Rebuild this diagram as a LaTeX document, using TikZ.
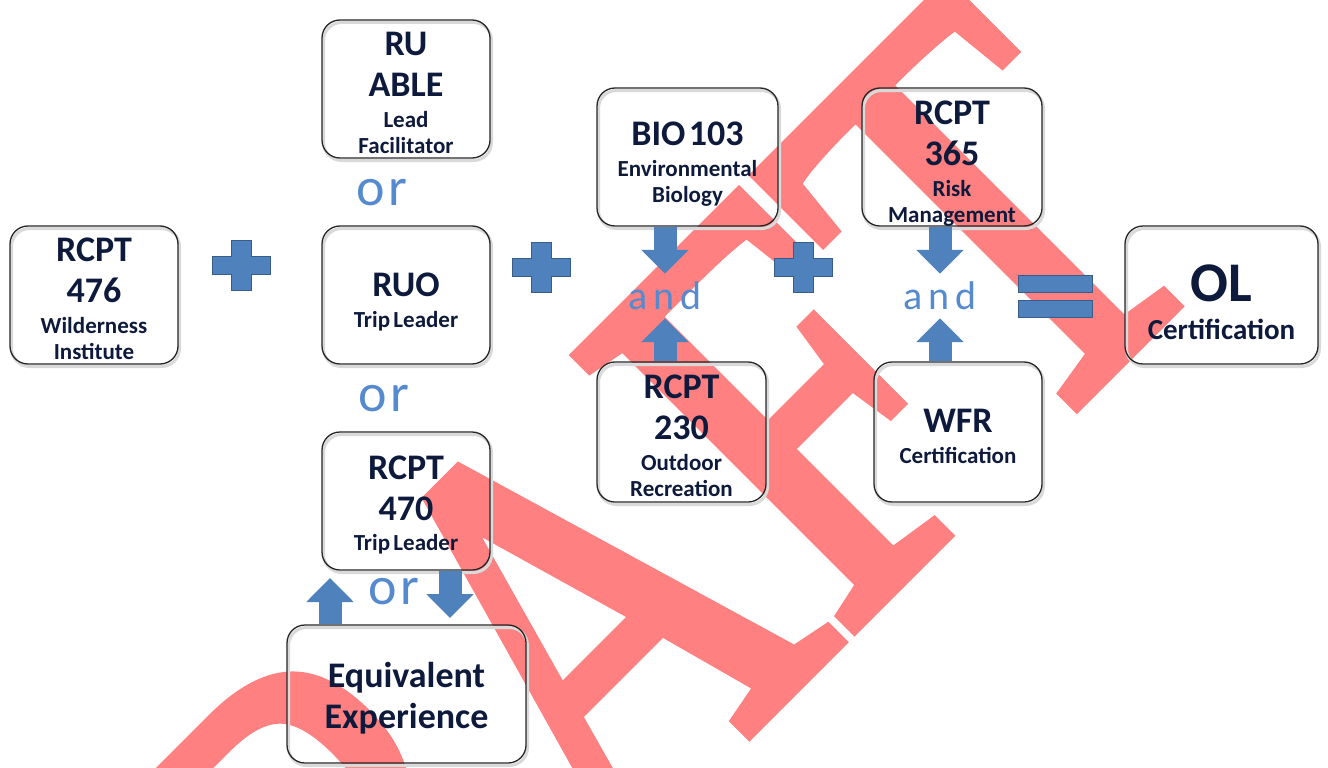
\documentclass[tikz,border=0pt]{standalone}
\usepackage{fontspec}
\setmainfont{Carlito}
\newfontfamily\wmfont[FakeBold=2.5]{Liberation Serif}
\newfontfamily\joinfont[LetterSpace=16]{Carlito}
\newfontfamily\orfont[LetterSpace=8]{Carlito}
\usetikzlibrary{arrows.meta,positioning}

\definecolor{navy}{RGB}{14,26,60}
\definecolor{plusblue}{RGB}{79,129,189}
\definecolor{plusedge}{RGB}{56,93,138}
\definecolor{joinblue}{RGB}{86,138,206}
\definecolor{wmred}{RGB}{255,128,128}

% lines inside the course boxes
\newcommand{\crsbig}[1]{{\fontsize{36}{41}\selectfont #1\par}}
\newcommand{\crssmall}[1]{{\fontsize{23}{26}\selectfont\vspace{5pt}#1\par}}
\newcommand{\crsdrop}{\kern-6pt}

\tikzset{
  course/.style={draw=black!85, line width=1.3pt, rounded corners=18pt,
    align=center, text=navy, font=\bfseries, inner sep=0pt,
    minimum height=138pt, text width=#1,
    execute at end node={\par\kern-8pt},
    preaction={draw=black!15, line width=3pt,
      transform canvas={xshift=1.5pt,yshift=-2.5pt}}},
  joinword/.style={font=\orfont\fontsize{54}{54}\selectfont, text=joinblue, inner sep=0pt},
  andword/.style={font=\joinfont\fontsize{40}{40}\selectfont, text=joinblue, inner sep=0pt, minimum height=44pt},
  blockarr/.style={draw=plusblue, line width=23pt, -{Triangle[width=46pt,length=24pt]}},
  blueshape/.style={fill=plusblue, draw=plusedge, line width=0.8pt},
  wmark/.style={font=\wmfont\fontsize{590}{600}\selectfont, text=wmred, inner sep=0pt},
  plussign/.pic={
    \filldraw[blueshape] (-29,-9) -- (-10,-9) -- (-10,-25) -- (10,-25) -- (10,-9) -- (29,-9)
      -- (29,9) -- (10,9) -- (10,25) -- (-10,25) -- (-10,9) -- (-29,9) -- cycle;}
}

\begin{document}
\begin{tikzpicture}[x=1pt,y=-1pt]
	\useasboundingbox (0,0) rectangle (1328,768);
	\clip (0,0) rectangle (1328,768);

	% watermark
	\node[wmark, rotate=45, xscale=0.79] (draft) at (549,657) {DRAFT};

	% course boxes
	\node[course=168pt] (w476) at (94,295) {\crsbig{RCPT\par 476}\crssmall{Wilderness\par Institute}};
	\node[course=168pt] (able) at (406,89) {\crsbig{RU\par ABLE}\crssmall{Lead\par Facilitator}};
	\node[course=168pt] (ruo) at (406,295) {\crsbig{RUO}\crssmall{Trip Leader}\crsdrop};
	\node[course=168pt] (r470) at (406,501) {\crsbig{RCPT\par 470}\crssmall{Trip Leader}};
	\node[course=239pt] (equiv) at (406.5,694) {{\fontsize{36}{41}\selectfont Equivalent\par Experience\par}};
	\node[course=181pt] (bio) at (687.5,157) {\crsbig{BIO 103}\crssmall{Environmental\par Biology}\crsdrop};
	\node[course=169pt, minimum height=140pt] (r230) at (681.5,432) {\crsbig{RCPT\par 230}\crssmall{Outdoor\par Recreation}};
	\node[course=180pt] (r365) at (952,157) {\crsbig{RCPT\par 365}\crssmall{Risk\par Management}\crsdrop};
	\node[course=168pt, minimum height=140pt] (wfr) at (958,432) {\crsbig{WFR}\crssmall{Certification}};
	\node[course=193pt] (ol) at (1221.5,295) {{\fontsize{56}{56}\selectfont OL\par}{\fontsize{29}{32}\selectfont\vspace{6pt}Certification\par}\crsdrop};

	% or / and
	\node[joinword] (or1) at (382,193) {or};
	\node[joinword] (or2) at (384,399) {or};
	\node[joinword] (or3) at (394,592) {or};
	\node[andword] (and1) at (665,296) {and};
	\node[andword] (and2) at (940,296) {and};

	% block arrows
	\coordinate (or3up) at (330,578);
	\coordinate (or3dn) at (450,618);
	\draw[blockarr] (or3up |- equiv.north) -- (or3up);
	\draw[blockarr] (or3dn |- r470.south) -- (or3dn);
	\draw[blockarr] (bio.south -| and1.north) -- (and1.north);
	\draw[blockarr] (r230.north -| and1.south) -- (and1.south);
	\draw[blockarr] (r365.south -| and2.north) -- (and2.north);
	\draw[blockarr] (wfr.north -| and2.south) -- (and2.south);

	% plus and equals
	\path (241,265) pic {plussign};
	\path (541,267) pic {plussign};
	\path (803,267) pic {plussign};
	\filldraw[blueshape] (1018,275) rectangle (1092,292);
	\filldraw[blueshape] (1018,300) rectangle (1092,317);

\end{tikzpicture}
\end{document}
